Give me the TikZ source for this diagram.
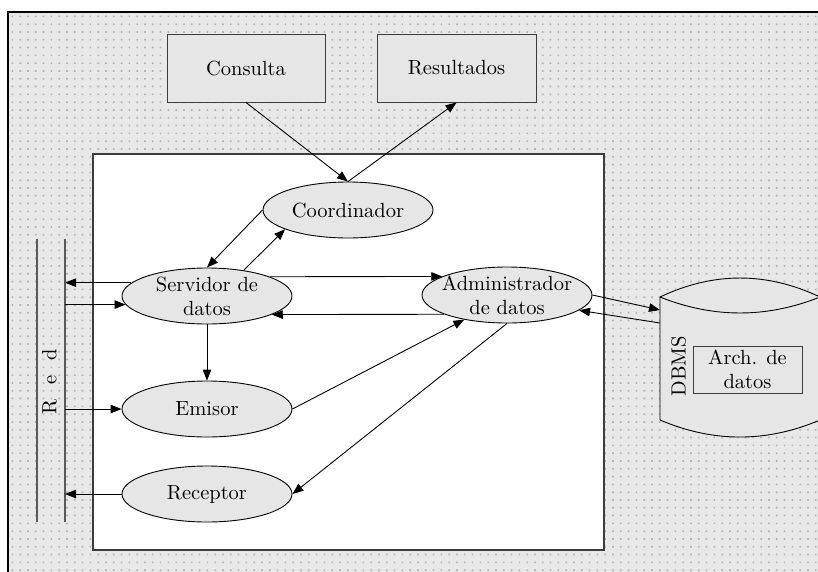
\documentclass[tikz,border=0pt]{standalone}
\usepackage{fontspec}
\setmainfont{lmroman10-regular}[Extension=.otf]
\usetikzlibrary{arrows.meta,shapes.geometric}
\definecolor{bggray}{HTML}{E8E8E8}
\definecolor{dotgray}{HTML}{B6B6B6}
\definecolor{shapegray}{HTML}{E6E6E6}
\definecolor{edgegray}{HTML}{3C3C3C}
\definecolor{netgray}{HTML}{5A5A5A}

\begin{document}
\begin{tikzpicture}[x=1pt,y=-1pt,
  font=\fontsize{20.5}{24}\selectfont,
  proc/.style={ellipse, draw=black, fill=shapegray, line width=0.9pt,
    minimum width=170pt, minimum height=56pt, inner sep=0pt},
  ptext/.style={align=center, inner sep=0pt},
  iobox/.style={rectangle, draw=edgegray, fill=shapegray, line width=1pt,
    minimum height=68pt, inner sep=0pt},
  flow/.style={-{Triangle[length=11pt,width=8.5pt]}, line width=0.9pt},
  netline/.style={draw=netgray, line width=1.4pt},
]
\useasboundingbox (0,0) rectangle (818,571);
\clip (0,0) rectangle (818,571);

% dotted backdrop
\fill[bggray] (8,12) rectangle (830,580);
\foreach \j in {0,...,71}{
  \fill[dotgray] \foreach \i in {0,...,104}{(11.5+\i*7.8,15.5+\j*7.8) rectangle ++(1.7,1.7)};
}
\draw[line width=1.1pt] (8,580) -- (8,12) -- (830,12);

% host frame
\node[draw=edgegray, fill=white, line width=1.5pt, minimum width=511pt,
  minimum height=396pt, inner sep=0pt] (host) at (348.5,352) {};

% user side
\node[iobox, minimum width=158pt] (cons) at (246,68) {Consulta};
\node[iobox, minimum width=159pt] (res) at (456.5,68) {Resultados};

% processes
\node[proc] (coord) at (348,210) {};
\node[ptext] (coordT) at (coord) {Coordinador};
\node[proc] (serv) at (207,296) {};
\node[ptext] (servT) at (serv) {Servidor de\\datos};
\node[proc] (admin) at (507,295) {};
\node[ptext] (adminT) at (admin) {Administrador\\de datos};
\node[proc] (emis) at (207,409) {};
\node[ptext] (emisT) at (emis) {Emisor};
\node[proc] (recp) at (207,494) {};
\node[ptext] (recpT) at (recp) {Receptor};

% network bus
\coordinate (redLt) at (37,239);
\coordinate (redLb) at (37,522);
\coordinate (redRt) at (65,239);
\coordinate (redRb) at (65,522);
\draw[netline] (redLt) -- (redLb);
\draw[netline] (redRt) -- (redRb);
\node[rotate=90, inner sep=0pt] (redT) at (49.5,382) {R\hspace{0.72em}e\hspace{0.72em}d};

% database
\fill[shapegray] (660,297) .. controls (713.3,271.7) and (766.7,271.7) .. (820,297)
  -- (820,420) .. controls (766.7,442.7) and (713.3,442.7) .. (660,420) -- cycle;
\draw[line width=0.9pt] (820,297) .. controls (766.7,271.7) and (713.3,271.7) .. (660,297)
  -- (660,420) .. controls (713.3,442.7) and (766.7,442.7) .. (820,420);
\draw[line width=0.9pt] (660,297) .. controls (713.3,318.3) and (766.7,318.3) .. (820,297);
\coordinate (dbmsIn) at (660,310);
\coordinate (dbmsOut) at (660,323);
\node[rotate=90, inner sep=0pt] (dbmsT) at (678.5,366) {DBMS};
\node[draw=edgegray, fill=shapegray, line width=1pt, minimum width=109pt,
  minimum height=47pt, inner sep=0pt, align=center] (arch) at (747.5,369.5) {Arch. de\\datos};

% flows
\draw[flow] (cons.south) -- (coord.north);
\draw[flow] (coord.north) -- (res.south);
\draw[flow] (coord.west) -- (serv.north);
\draw[flow] (serv.35) -- (coord.197);
\draw[flow] (serv.17) -- (admin.164.5);
\draw[flow] (admin.197) -- (serv.344.5);
\draw[flow] (serv.170) -- (serv.170 -| redRt);
\draw[flow] (serv.186 -| redRt) -- (serv.186);
\draw[flow] (serv.south) -- (emis.north);
\draw[flow] (emis.west -| redRt) -- (emis.west);
\draw[flow] (recp.west) -- (recp.west -| redRt);
\draw[flow] (emis.east) -- (admin.210);
\draw[flow] (admin.south) -- (recp.east);
\draw[flow] (admin.east) -- (dbmsIn);
\draw[flow] (dbmsOut) -- (admin.348);
\end{tikzpicture}
\end{document}
